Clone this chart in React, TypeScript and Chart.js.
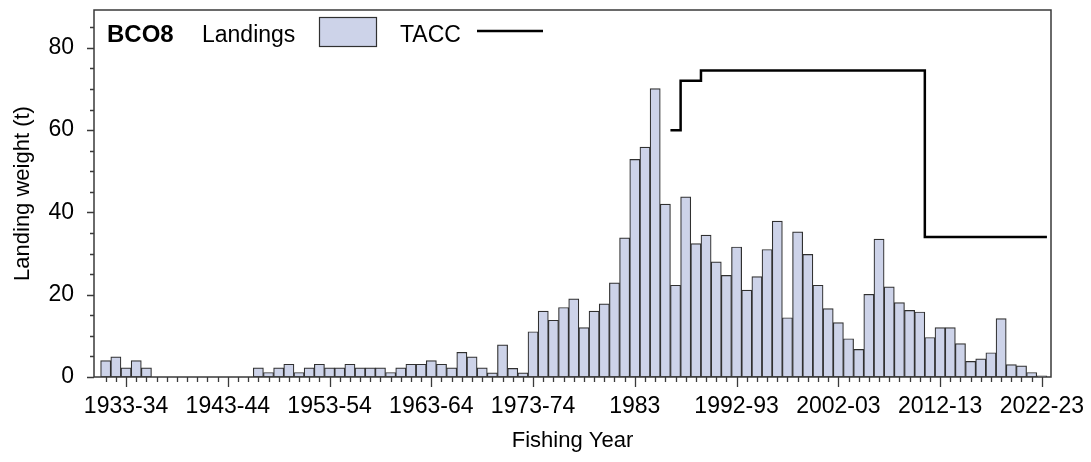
import React, { useEffect, useRef } from "react";
import { Chart, registerables } from "chart.js";

Chart.register(...registerables);

// ---------- data ----------
const years: string[] = [
  "1931-32", "1932-33", "1933-34", "1934-35", "1935-36", "1936-37", "1937-38", "1938-39", "1939-40", "1940-41",
  "1941-42", "1942-43", "1943-44", "1944-45", "1945-46", "1946-47", "1947-48", "1948-49", "1949-50", "1950-51",
  "1951-52", "1952-53", "1953-54", "1954-55", "1955-56", "1956-57", "1957-58", "1958-59", "1959-60", "1960-61",
  "1961-62", "1962-63", "1963-64", "1964-65", "1965-66", "1966-67", "1967-68", "1968-69", "1969-70", "1970-71",
  "1971-72", "1972-73", "1973-74", "1974-75", "1975-76", "1976-77", "1977-78", "1978-79", "1979-80", "1980-81",
  "1981-82", "1982-83", "1983", "1983-84", "1984-85", "1985-86", "1986-87", "1987-88", "1988-89", "1989-90",
  "1990-91", "1991-92", "1992-93", "1993-94", "1994-95", "1995-96", "1996-97", "1997-98", "1998-99", "1999-00",
  "2000-01", "2001-02", "2002-03", "2003-04", "2004-05", "2005-06", "2006-07", "2007-08", "2008-09", "2009-10",
  "2010-11", "2011-12", "2012-13", "2013-14", "2014-15", "2015-16", "2016-17", "2017-18", "2018-19", "2019-20",
  "2020-21", "2021-22", "2022-23",
];

const landings: number[] = [
  4.0, 4.9, 2.2, 4.0, 2.2, 0, 0, 0, 0, 0,
  0, 0, 0, 0, 0, 2.2, 1.1, 2.2, 3.1, 1.1,
  2.2, 3.1, 2.2, 2.2, 3.1, 2.2, 2.2, 2.2, 1.1, 2.2,
  3.1, 3.1, 4.0, 3.1, 2.2, 6.0, 4.9, 2.2, 1.0, 7.8,
  2.1, 1.0, 11.0, 16.0, 13.8, 16.9, 19.0, 12.0, 16.0, 17.8,
  22.9, 33.8, 52.9, 55.9, 70.1, 42.0, 22.3, 43.8, 32.4, 34.5,
  28.0, 24.7, 31.6, 21.1, 24.4, 31.0, 37.9, 14.4, 35.3, 29.8,
  22.3, 16.6, 13.2, 9.3, 6.7, 20.1, 33.5, 21.9, 18.1, 16.2,
  15.8, 9.6, 12.0, 12.0, 8.1, 3.8, 4.4, 5.9, 14.2, 3.0,
  2.7, 1.1, 0.3,
];

// TACC by fishing year, starting in 1986-87
const taccFirstYear = "1986-87";
const taccValues: number[] = [
  60, 72, 72, 74.5, 74.5, 74.5, 74.5, 74.5, 74.5, 74.5,
  74.5, 74.5, 74.5, 74.5, 74.5, 74.5, 74.5, 74.5, 74.5, 74.5,
  74.5, 74.5, 74.5, 74.5, 74.5, 34, 34, 34, 34, 34,
  34, 34, 34, 34, 34, 34, 34,
];

const xTickLabels: string[] = [
  "1933-34", "1943-44", "1953-54", "1963-64", "1973-74",
  "1983", "1992-93", "2002-03", "2012-13", "2022-23",
];
const yTickValues: number[] = [0, 20, 40, 60, 80];
const yMinorStep = 5;

// ---------- style ----------
const FONT = "'Liberation Sans', Arial, Helvetica, sans-serif";
const BAR_FILL = "#cdd3e9";
const BAR_EDGE = "#303030";
const AXIS_COLOR = "#3a3a3a";

const zeroPad = (s: any) => {
  s.paddingTop = 0;
  s.paddingBottom = 0;
  s.paddingLeft = 0;
  s.paddingRight = 0;
};

const framePlugin = {
  id: "frameAndLegend",
  afterDraw(chart: any) {
    const { ctx, chartArea: a, scales } = chart;
    const xs = scales.x;
    const ys = scales.y;
    ctx.save();
    ctx.strokeStyle = AXIS_COLOR;
    ctx.lineWidth = 1.5;
    ctx.beginPath();
    ctx.rect(a.left, a.top, a.right - a.left, a.bottom - a.top);
    ctx.stroke();

    // x ticks: minor every year, major at labelled years
    ctx.lineWidth = 1.3;
    ctx.beginPath();
    years.forEach((yr, i) => {
      const px = Math.round(xs.getPixelForValue(i)) + 0.5;
      const len = xTickLabels.includes(yr) ? 10 : 5;
      ctx.moveTo(px, a.bottom);
      ctx.lineTo(px, a.bottom + len);
    });
    // y ticks
    for (let v = 0; v <= ys.max; v += yMinorStep) {
      const py = Math.round(ys.getPixelForValue(v)) + 0.5;
      const len = yTickValues.includes(v) ? 7 : 4;
      ctx.moveTo(a.left, py);
      ctx.lineTo(a.left - len, py);
    }
    ctx.stroke();

    // legend
    ctx.fillStyle = "#000";
    ctx.textBaseline = "alphabetic";
    ctx.textAlign = "left";
    ctx.font = `bold 24px ${FONT}`;
    ctx.fillText("BCO8", 107, 42);
    ctx.font = `23px ${FONT}`;
    ctx.fillText("Landings", 202, 42);
    ctx.fillStyle = BAR_FILL;
    ctx.fillRect(319, 17, 57, 29);
    ctx.strokeStyle = BAR_EDGE;
    ctx.lineWidth = 1.2;
    ctx.strokeRect(319.5, 17.5, 57, 29);
    ctx.fillStyle = "#000";
    ctx.fillText("TACC", 400, 42);
    ctx.strokeStyle = "#000";
    ctx.lineWidth = 2.5;
    ctx.beginPath();
    ctx.moveTo(477, 31);
    ctx.lineTo(543, 31);
    ctx.stroke();
    ctx.restore();
  },
};

export default function App() {
  const ref = useRef<HTMLCanvasElement | null>(null);

  useEffect(() => {
    if (!ref.current) return;
    const barData = landings.map((v, i) => ({ x: i, y: v }));
    const start = years.indexOf(taccFirstYear);
    const taccData = taccValues.map((v, k) => ({ x: start + k - 0.5, y: v }));
    taccData.push({
      x: start + taccValues.length - 0.5,
      y: taccValues[taccValues.length - 1],
    });

    const chart = new Chart(ref.current, {
      type: "bar",
      data: {
        datasets: [
          {
            type: "line",
            label: "TACC",
            data: taccData,
            borderColor: "#000",
            borderWidth: 2.5,
            pointRadius: 0,
            stepped: "before",
            fill: false,
            order: 0,
            borderJoinStyle: "miter",
          } as any,
          {
            type: "bar",
            label: "Landings",
            data: barData,
            backgroundColor: BAR_FILL,
            borderColor: BAR_EDGE,
            borderWidth: 1.2,
            borderSkipped: false,
            barPercentage: 1,
            categoryPercentage: 1,
            order: 1,
          } as any,
        ],
      },
      options: {
        responsive: false,
        animation: false,
        events: [],
        layout: { padding: { top: 10, right: 40, left: 0, bottom: 0 } },
        plugins: { legend: { display: false }, tooltip: { enabled: false } },
        scales: {
          x: {
            type: "linear",
            min: -1.15,
            max: 92.9,
            offset: false,
            grid: { display: false, drawTicks: false },
            border: { display: false },
            afterBuildTicks: (s: any) => {
              s.ticks = xTickLabels.map((l) => ({ value: years.indexOf(l) }));
            },
            afterFit: (s: any) => {
              s.height = 85;
              zeroPad(s);
            },
            ticks: {
              callback: (v: any) => years[v as number],
              font: { family: FONT, size: 23 },
              color: "#000",
              padding: 16,
              maxRotation: 0,
              minRotation: 0,
              autoSkip: false,
            },
            title: {
              display: true,
              text: "Fishing Year",
              font: { family: FONT, size: 22 },
              color: "#000",
              padding: { top: 0, bottom: 8 },
            },
          },
          y: {
            type: "linear",
            min: 0,
            max: 89.2,
            grid: { display: false, drawTicks: false },
            border: { display: false },
            afterBuildTicks: (s: any) => {
              s.ticks = yTickValues.map((v) => ({ value: v }));
            },
            afterFit: (s: any) => {
              s.width = 94;
              zeroPad(s);
            },
            ticks: {
              font: { family: FONT, size: 23 },
              color: "#000",
              padding: 20,
            },
            title: {
              display: true,
              text: "Landing weight (t)",
              font: { family: FONT, size: 22 },
              color: "#000",
              padding: { top: 10, bottom: 0 },
            },
          },
        },
      },
      plugins: [framePlugin],
    });
    return () => chart.destroy();
  }, []);

  return (
    <div style={{ position: "fixed", left: 0, top: 0, width: 1091, height: 462, background: "#fff" }}>
      <canvas ref={ref} width={1091} height={462} style={{ width: 1091, height: 462, display: "block" }} />
    </div>
  );
}
